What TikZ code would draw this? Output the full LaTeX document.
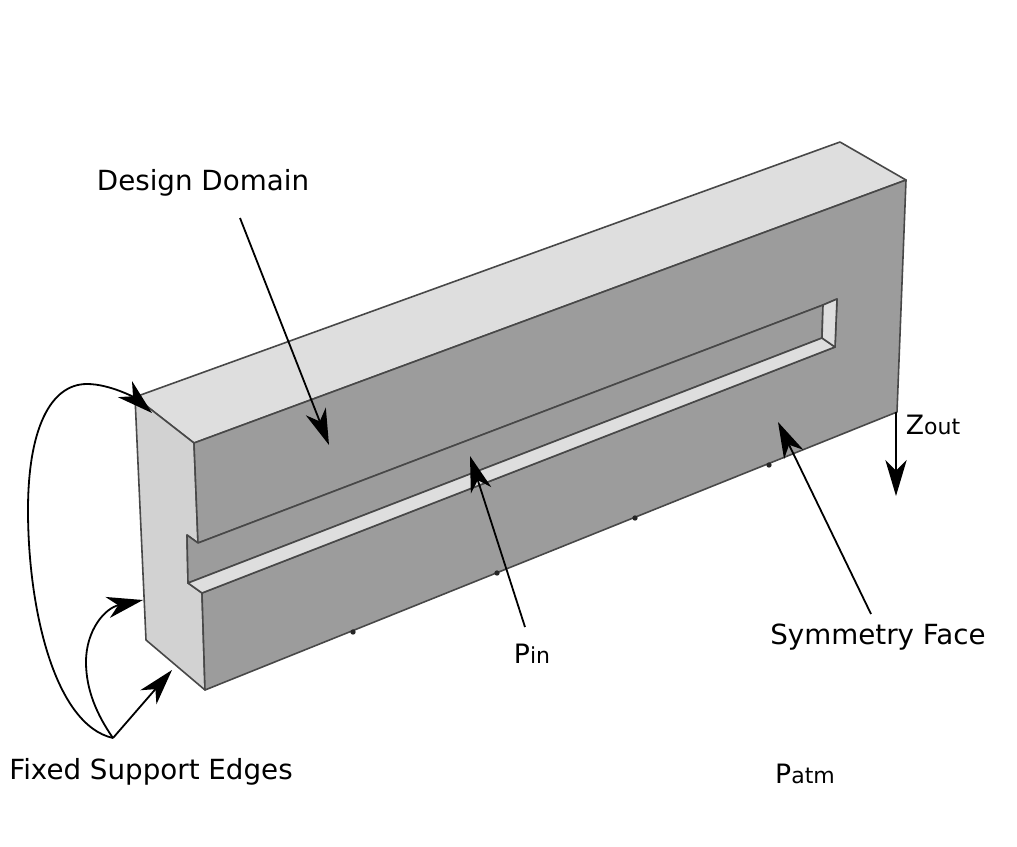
\documentclass[tikz,border=0pt]{standalone}
\usepackage{fontspec}
\setmainfont{DejaVu Sans}
\usetikzlibrary{arrows.meta}
\definecolor{topface}{HTML}{DEDEDE}
\definecolor{sideface}{HTML}{D2D2D2}
\definecolor{frontface}{HTML}{9C9C9C}
\definecolor{edgeline}{HTML}{484848}
\begin{document}
\begin{tikzpicture}[x=0.75pt,y=-0.75pt,
                    face/.style={draw=edgeline,line width=1.2pt,line join=round},
                    label node/.style={font=\fontsize{20.8}{24}\selectfont,inner sep=0pt,outer sep=1pt},
                    small node/.style={font=\fontsize{20}{24}\selectfont,inner sep=0pt,outer sep=3pt},
                    pointer/.style={draw=black,line width=1.35pt,-{Stealth[length=27pt,width=16pt,inset=8pt]}},
                    rivet/.style={circle,fill=black!85,inner sep=0pt,minimum size=4pt}
                   ]
  \useasboundingbox (0,0) rectangle (1017,846);
  % block corners
  \coordinate (backleft) at (135,397);
  \coordinate (backright) at (840,142);
  \coordinate (frontright) at (906,180);
  \coordinate (frontleft) at (194,443);
  \coordinate (lowright) at (897,412);
  \coordinate (lowfront) at (205,690);
  \coordinate (lowback) at (146,640);
  % slot corners
  \coordinate (slotA) at (198,543);
  \coordinate (slotB) at (187,535);
  \coordinate (slotC) at (188,583);
  \coordinate (slotD) at (202,593);
  \coordinate (slotE) at (823,305);
  \coordinate (slotF) at (837,299);
  \coordinate (slotG) at (835,347);
  \coordinate (slotH) at (822,338);

  \path[face,fill=topface] (backleft) -- (backright) -- (frontright) -- (frontleft) -- cycle;
  \path[face,fill=sideface] (backleft) -- (frontleft) -- (slotA) -- (slotB) -- (slotC) -- (slotD) -- (lowfront) -- (lowback) -- cycle;
  \path[face,fill=frontface] (frontleft) -- (frontright) -- (lowright) -- (lowfront) -- (slotD) -- (slotG) -- (slotF) -- (slotE) -- (slotA) -- cycle;
  \path[face,fill=frontface] (slotA) -- (slotE) -- (slotH) -- (slotC) -- (slotB) -- cycle;
  \path[face,fill=topface] (slotC) -- (slotH) -- (slotG) -- (slotD) -- cycle;
  \path[face,fill=topface] (slotE) -- (slotF) -- (slotG) -- (slotH) -- cycle;

  \node[rivet] (r1) at (353,632) {};
  \node[rivet] (r2) at (497,573) {};
  \node[rivet] (r3) at (635,518) {};
  \node[rivet] (r4) at (769,465) {};

  \node[label node] (design) at (203,183) {Design Domain};
  \node[label node] (fixed) at (151,772) {Fixed Support Edges};
  \node[label node] (symmetry) at (878,637) {Symmetry Face};
  \node[small node] (pin) at (532,654) {P{\fontsize{16.5}{20}\selectfont in}};
  \node[small node] (zout) at (933,425) {Z{\fontsize{16.5}{20}\selectfont out}};
  \node[small node] (patm) at (805,774) {P{\fontsize{16.5}{20}\selectfont atm}};

  \coordinate (designtail) at (240,218);
  \coordinate (designtip) at (329,445);
  \coordinate (pintail) at (525,627);
  \coordinate (pintip) at (470,456);
  \coordinate (symmetrytail) at (871,614);
  \coordinate (symmetrytip) at (778,422);
  \coordinate (zouttip) at (896,496);
  \coordinate (zouttail) at (896,412);
  \coordinate (fixedtail) at (113,738);
  \coordinate (fixedtipA) at (152,413);
  \coordinate (fixedtipB) at (143,600);
  \coordinate (fixedtipC) at (172,670);

  \draw[pointer] (designtail) -- (designtip);
  \draw[pointer] (pintail) -- (pintip);
  \draw[pointer] (symmetrytail) -- (symmetrytip);
  \draw[pointer] (zouttail) -- (zouttip);
  \draw[pointer] (fixedtail) -- (fixedtipC);
  \draw[pointer] (fixedtail) .. controls (97,715) and (86,690) .. (86,662) .. controls (86,630) and (105,608) .. (fixedtipB);
  \draw[pointer] (fixedtail) .. controls (55,725) and (28,610) .. (28,510) .. controls (28,430) and (50,384) .. (87,384) .. controls (110,384) and (135,398) .. (fixedtipA);
\end{tikzpicture}
\end{document}
